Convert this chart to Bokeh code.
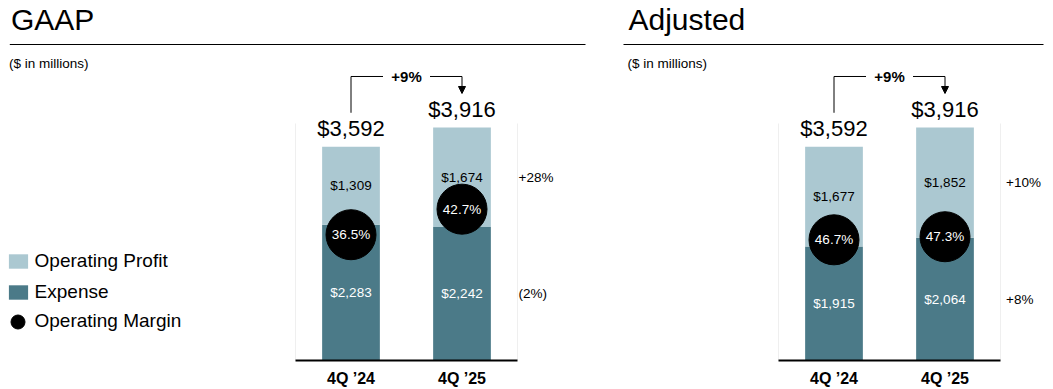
from bokeh.plotting import figure
from bokeh.layouts import row
from bokeh.models import Range1d, FixedTicker, Legend, LegendItem, Arrow, NormalHead
from bokeh.core.properties import value
from bokeh.embed import file_html
from bokeh.resources import INLINE

# ---------------- data ----------------
categories = ["4Q \u201924", "4Q \u201925"]

gaap_expense = [2283, 2242]
gaap_profit = [1309, 1674]
gaap_margin = [36.5, 42.7]
gaap_growth_total = "+9%"
gaap_growth_profit = "+28%"
gaap_growth_expense = "(2%)"

adj_expense = [1915, 2064]
adj_profit = [1677, 1852]
adj_margin = [46.7, 47.3]
adj_growth_total = "+9%"
adj_growth_profit = "+10%"
adj_growth_expense = "+8%"

# ---------------- style / layout ----------------
FONT = "Liberation Sans"
LIGHT = "#abc8d1"
DARK = "#4b7a88"

PAGE_TOP = 0
BASE_PX = 360          # page y of the bars' baseline
SCALE_TOP_PX = 122     # page y where value SCALE_TOP_VAL sits
SCALE_TOP_VAL = 4000
UPX = SCALE_TOP_VAL / (BASE_PX - SCALE_TOP_PX)   # data units per pixel
FRAME_H = BASE_PX - PAGE_TOP
SLOT = 111             # pixels per category


def make_panel(title, title_font, expense, profit, margin, g_total, g_profit, g_expense,
               panel_left, panel_w, chart_left, margin_range, right_off,
               title_x, rule_x0, rule_x1, sub_x, with_legend):
    def X(px):
        return (px - chart_left) / SLOT

    def Y(py):
        return (BASE_PX - py) * UPX

    n = len(categories)
    xs = [i + 0.5 for i in range(n)]
    totals = [e + q for e, q in zip(expense, profit)]

    p = figure(frame_width=panel_w, frame_height=FRAME_H,
               x_range=Range1d(X(panel_left), X(panel_left + panel_w)),
               y_range=Range1d(0, FRAME_H * UPX),
               output_backend="svg", toolbar_location=None,
               y_axis_location=None, x_axis_location="below",
               min_border=0, outline_line_color=None,
               background_fill_color="white", border_fill_color="white")
    p.extra_y_ranges = {"margin": Range1d(*margin_range)}
    p.grid.visible = False

    # faint chart-area edges
    p.segment(x0=[0, n], y0=[0, 0], x1=[0, n], y1=[SCALE_TOP_VAL - UPX] * 2,
              line_color="#efefef", line_width=1)

    # header
    p.text(x=[X(title_x)], y=[Y(18.8)], text=[title],
           text_font=value(title_font), text_font_size=value("30px"),
           text_color="black", text_align="left", text_baseline="middle")
    p.segment(x0=[X(rule_x0)], y0=[Y(44)], x1=[X(rule_x1)], y1=[Y(44)],
              line_color="black", line_width=1)
    p.text(x=[X(sub_x)], y=[Y(62.5)], text=["($ in millions)"],
           text_font=value(FONT), text_font_size=value("13.5px"),
           text_color="black", text_align="left", text_baseline="middle")

    # stacked bars
    r_exp = p.vbar(x=xs, bottom=0, top=expense, width=0.52,
                   fill_color=DARK, line_color=None)
    r_prof = p.vbar(x=xs, bottom=expense, top=totals, width=0.52,
                    fill_color=LIGHT, line_color=None)

    # segment labels
    p.text(x=xs, y=[e / 2 for e in expense], text=[f"${v:,}" for v in expense],
           text_font=value(FONT), text_font_size=value("13.5px"),
           text_color="white", text_align="center", text_baseline="middle")
    p.text(x=xs, y=[e + q / 2 for e, q in zip(expense, profit)],
           text=[f"${v:,}" for v in profit],
           text_font=value(FONT), text_font_size=value("13.5px"),
           text_color="black", text_align="center", text_baseline="middle")

    # totals
    p.text(x=xs, y=totals, text=[f"${v:,}" for v in totals], y_offset=-18,
           text_font=value(FONT), text_font_size=value("22px"),
           text_color="black", text_align="center", text_baseline="middle")

    # margin circles
    r_marg = p.scatter(x=xs, y=margin, size=50, fill_color="black",
                       line_color="black", y_range_name="margin")
    p.text(x=xs, y=margin, text=[f"{m:.1f}%" for m in margin],
           y_range_name="margin",
           text_font=value(FONT), text_font_size=value("13.5px"),
           text_color="white", text_align="center", text_baseline="middle")

    # growth labels to the right
    p.text(x=[n, n], y=[expense[-1] / 2, expense[-1] + profit[-1] / 2],
           text=[g_expense, g_profit], x_offset=right_off,
           text_font=value(FONT), text_font_size=value("13.5px"),
           text_color="black", text_align="left", text_baseline="middle")

    # bracket with arrow
    y_br = max(totals) + 51 * UPX
    y_left = totals[0] + 34 * UPX
    y_tip = totals[-1] + 34 * UPX
    xm = (xs[0] + xs[-1]) / 2
    gap = 23.5 / SLOT
    p.segment(x0=[xs[0], xs[0], xm + gap], y0=[y_left, y_br, y_br],
              x1=[xs[0], xm - gap, xs[-1]], y1=[y_br, y_br, y_br],
              line_color="black", line_width=1)
    p.add_layout(Arrow(end=NormalHead(size=7, fill_color="black", line_color="black"),
                       x_start=xs[-1], y_start=y_br, x_end=xs[-1], y_end=y_tip,
                       line_color="black", line_width=1))
    p.text(x=[xm], y=[y_br], text=[g_total],
           text_font=value(FONT), text_font_size=value("15px"),
           text_font_style="bold", text_color="black",
           text_align="center", text_baseline="middle")

    # x axis
    ax = p.xaxis[0]
    ax.ticker = FixedTicker(ticks=xs)
    ax.major_label_overrides = {x: c for x, c in zip(xs, categories)}
    ax.bounds = (0, n)
    ax.axis_line_width = 2
    ax.axis_line_color = "black"
    ax.major_tick_line_color = None
    ax.minor_tick_line_color = None
    ax.major_tick_out = 0
    ax.major_tick_in = 0
    ax.major_label_standoff = 9
    ax.major_label_text_font = FONT
    ax.major_label_text_font_size = "16px"
    ax.major_label_text_font_style = "bold"
    ax.major_label_text_color = "black"

    if with_legend:
        leg1 = Legend(items=[LegendItem(label="Operating Profit", renderers=[r_prof]),
                             LegendItem(label="Expense", renderers=[r_exp])],
                      location=(5.6, 57), orientation="vertical",
                      glyph_width=24, glyph_height=18, label_standoff=5,
                      spacing=9, padding=0, margin=0,
                      border_line_color=None, background_fill_alpha=0,
                      label_text_font=FONT, label_text_font_size="19px",
                      label_text_color="black")
        leg2 = Legend(items=[LegendItem(label="Operating Margin", renderers=[r_marg])],
                      location=(-0.5, 21.5), orientation="vertical",
                      glyph_width=35, glyph_height=35, label_standoff=0,
                      spacing=0, padding=0, margin=0,
                      border_line_color=None, background_fill_alpha=0,
                      label_text_font=FONT, label_text_font_size="19px",
                      label_text_color="black")
        p.add_layout(leg1)
        p.add_layout(leg2)
    return p


p1 = make_panel("GAAP", "Liberation Sans Narrow, Liberation Sans",
                gaap_expense, gaap_profit, gaap_margin,
                gaap_growth_total, gaap_growth_profit, gaap_growth_expense,
                panel_left=0, panel_w=612, chart_left=295, margin_range=(6.0, 93.3),
                right_off=1, title_x=10.4, rule_x0=9.3, rule_x1=585, sub_x=8.5,
                with_legend=True)
p2 = make_panel("Adjusted", FONT, adj_expense, adj_profit, adj_margin,
                adj_growth_total, adj_growth_profit, adj_growth_expense,
                panel_left=612, panel_w=433, chart_left=778, margin_range=(23.1, 93.5),
                right_off=5.5, title_x=628, rule_x0=623, rule_x1=1043, sub_x=627,
                with_legend=False)

layout = row(p1, p2)
open("out.html", "w").write(file_html(layout, INLINE))
